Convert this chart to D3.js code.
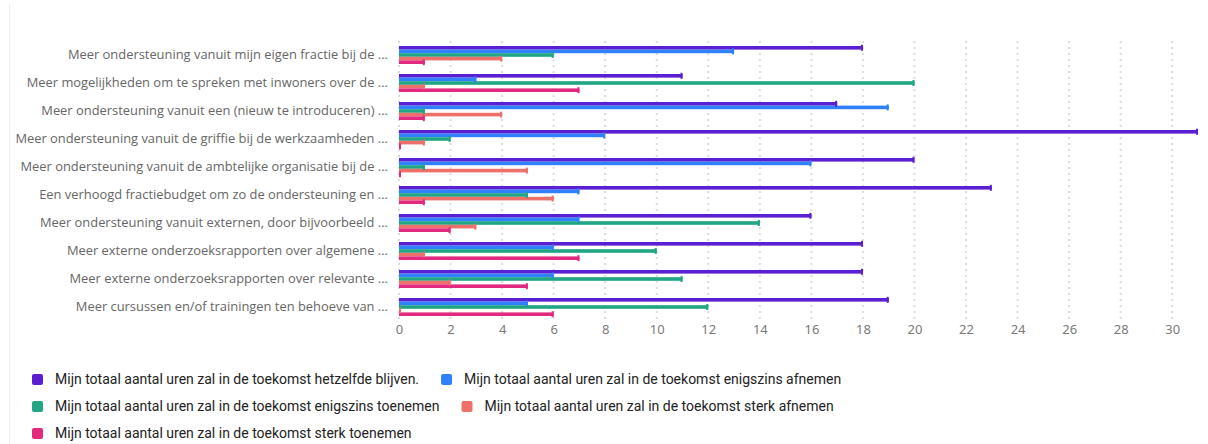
<!DOCTYPE html>
<html>
<head>
<meta charset="utf-8">
<script src="https://cdn.jsdelivr.net/npm/d3@7"></script>
<style>
  html, body { margin: 0; padding: 0; background: #fff; }
  svg { display: block; }
</style>
</head>
<body>
<svg id="chart" width="1208" height="444"></svg>
<script>
// Questions (truncated as shown on the axis)
const categories = [
  "Meer ondersteuning vanuit mijn eigen fractie bij de ...",
  "Meer mogelijkheden om te spreken met inwoners over de ...",
  "Meer ondersteuning vanuit een (nieuw te introduceren) ...",
  "Meer ondersteuning vanuit de griffie bij de werkzaamheden ...",
  "Meer ondersteuning vanuit de ambtelijke organisatie bij de ...",
  "Een verhoogd fractiebudget om zo de ondersteuning en ...",
  "Meer ondersteuning vanuit externen, door bijvoorbeeld ...",
  "Meer externe onderzoeksrapporten over algemene ...",
  "Meer externe onderzoeksrapporten over relevante ...",
  "Meer cursussen en/of trainingen ten behoeve van ..."
];

const seriesNames = [
  "Mijn totaal aantal uren zal in de toekomst hetzelfde blijven.",
  "Mijn totaal aantal uren zal in de toekomst enigszins afnemen",
  "Mijn totaal aantal uren zal in de toekomst enigszins toenemen",
  "Mijn totaal aantal uren zal in de toekomst sterk afnemen",
  "Mijn totaal aantal uren zal in de toekomst sterk toenemen"
];

const seriesColors = ["#5b1fd3", "#2f80fa", "#20a684", "#ef6f6a", "#e3297f"];

// Counts per question, one array per answer
const hetzelfde        = [18, 11, 17, 31, 20, 23, 16, 18, 18, 19];
const enigszinsAfnemen = [13,  3, 19,  8, 16,  7,  7,  6,  6,  5];
const enigszinsToenemen= [ 6, 20,  1,  2,  1,  5, 14, 10, 11, 12];
const sterkAfnemen     = [ 4,  1,  4,  1,  5,  6,  3,  1,  2,  0];
const sterkToenemen    = [ 1,  7,  1,  0,  0,  1,  2,  7,  5,  6];

const xTicks = [0, 2, 4, 6, 8, 10, 12, 14, 16, 18, 20, 22, 24, 26, 28, 30];

const seriesValues = [hetzelfde, enigszinsAfnemen, enigszinsToenemen, sterkAfnemen, sterkToenemen];

const svg = d3.select("#chart");

// faint frame line on the left
svg.append("line")
  .attr("x1", 9.5).attr("x2", 9.5).attr("y1", 4).attr("y2", 444)
  .attr("stroke", "#ececec").attr("stroke-width", 1);

const plotTop = 41, plotBottom = 321;
const x = d3.scaleLinear()
  .domain([0, d3.max(seriesValues.flat())])
  .range([399, 1198]);

const y = d3.scaleBand()
  .domain(categories)
  .range([plotTop, plotBottom])
  .paddingInner(10 / 28)
  .paddingOuter(5 / 28);

const ySub = d3.scaleBand()
  .domain(d3.range(seriesNames.length))
  .range([0, y.bandwidth()])
  .padding(0);

// dotted vertical gridlines
svg.append("g")
  .selectAll("line")
  .data(xTicks)
  .join("line")
  .attr("x1", d => x(d)).attr("x2", d => x(d))
  .attr("y1", plotTop).attr("y2", plotBottom)
  .attr("stroke", "#dcdcdc")
  .attr("stroke-width", 2)
  .attr("stroke-dasharray", "2,4");

// x axis labels
const xAxis = d3.axisBottom(x).tickValues(xTicks).tickSize(0).tickPadding(0);
const gx = svg.append("g")
  .attr("transform", `translate(0,${plotBottom + 4})`)
  .call(xAxis);
gx.select(".domain").remove();
gx.selectAll("text")
  .attr("dy", "0.71em")
  .attr("fill", "#7a7a7a")
  .style("font-family", "'Noto Sans', sans-serif")
  .style("font-size", "13px");

// y axis labels
const yAxis = d3.axisLeft(y).tickSize(0).tickPadding(0);
const gy = svg.append("g")
  .attr("transform", `translate(388,0)`)
  .call(yAxis);
gy.select(".domain").remove();
gy.selectAll("text")
  .attr("fill", "#666")
  .style("font-family", "'Open Sans', sans-serif")
  .style("font-size", "12.9px");

// bars with end caps
const rows = [];
categories.forEach((c, ci) => {
  seriesValues.forEach((vals, si) => {
    rows.push({ cat: c, s: si, v: vals[ci] });
  });
});

const barH = ySub.bandwidth();
const bars = svg.append("g");
bars.selectAll("rect")
  .data(rows)
  .join("rect")
  .attr("x", x(0))
  .attr("y", d => y(d.cat) + ySub(d.s))
  .attr("width", d => x(d.v) - x(0))
  .attr("height", barH)
  .attr("fill", d => seriesColors[d.s]);

bars.selectAll("line")
  .data(rows)
  .join("line")
  .attr("x1", d => x(d.v) - (d.v > 0 ? 1 : -1))
  .attr("x2", d => x(d.v) - (d.v > 0 ? 1 : -1))
  .attr("y1", d => y(d.cat) + ySub(d.s) - 1.2)
  .attr("y2", d => y(d.cat) + ySub(d.s) + barH + 1.2)
  .attr("stroke", d => seriesColors[d.s])
  .attr("stroke-width", 2);

// legend, flowing left to right and wrapping
const legend = svg.append("g")
  .style("font-family", "Roboto, sans-serif")
  .style("font-size", "14px");
const legX0 = 32, legY0 = 379.5, rowH = 27, gap = 22, maxRight = 900;
let lx = legX0, ly = legY0;
seriesNames.forEach((name, i) => {
  const g = legend.append("g");
  g.append("rect")
    .attr("x", 0).attr("y", -5.5)
    .attr("width", 11).attr("height", 11)
    .attr("rx", 2)
    .attr("fill", seriesColors[i]);
  const t = g.append("text")
    .attr("x", 23).attr("y", 0)
    .attr("dy", "0.35em")
    .attr("fill", "#222")
    .text(name);
  const w = 23 + t.node().getComputedTextLength();
  if (lx > legX0 && lx + w > maxRight) {
    lx = legX0; ly += rowH;
  }
  g.attr("transform", `translate(${lx},${ly})`);
  lx += w + gap;
});
</script>
</body>
</html>
